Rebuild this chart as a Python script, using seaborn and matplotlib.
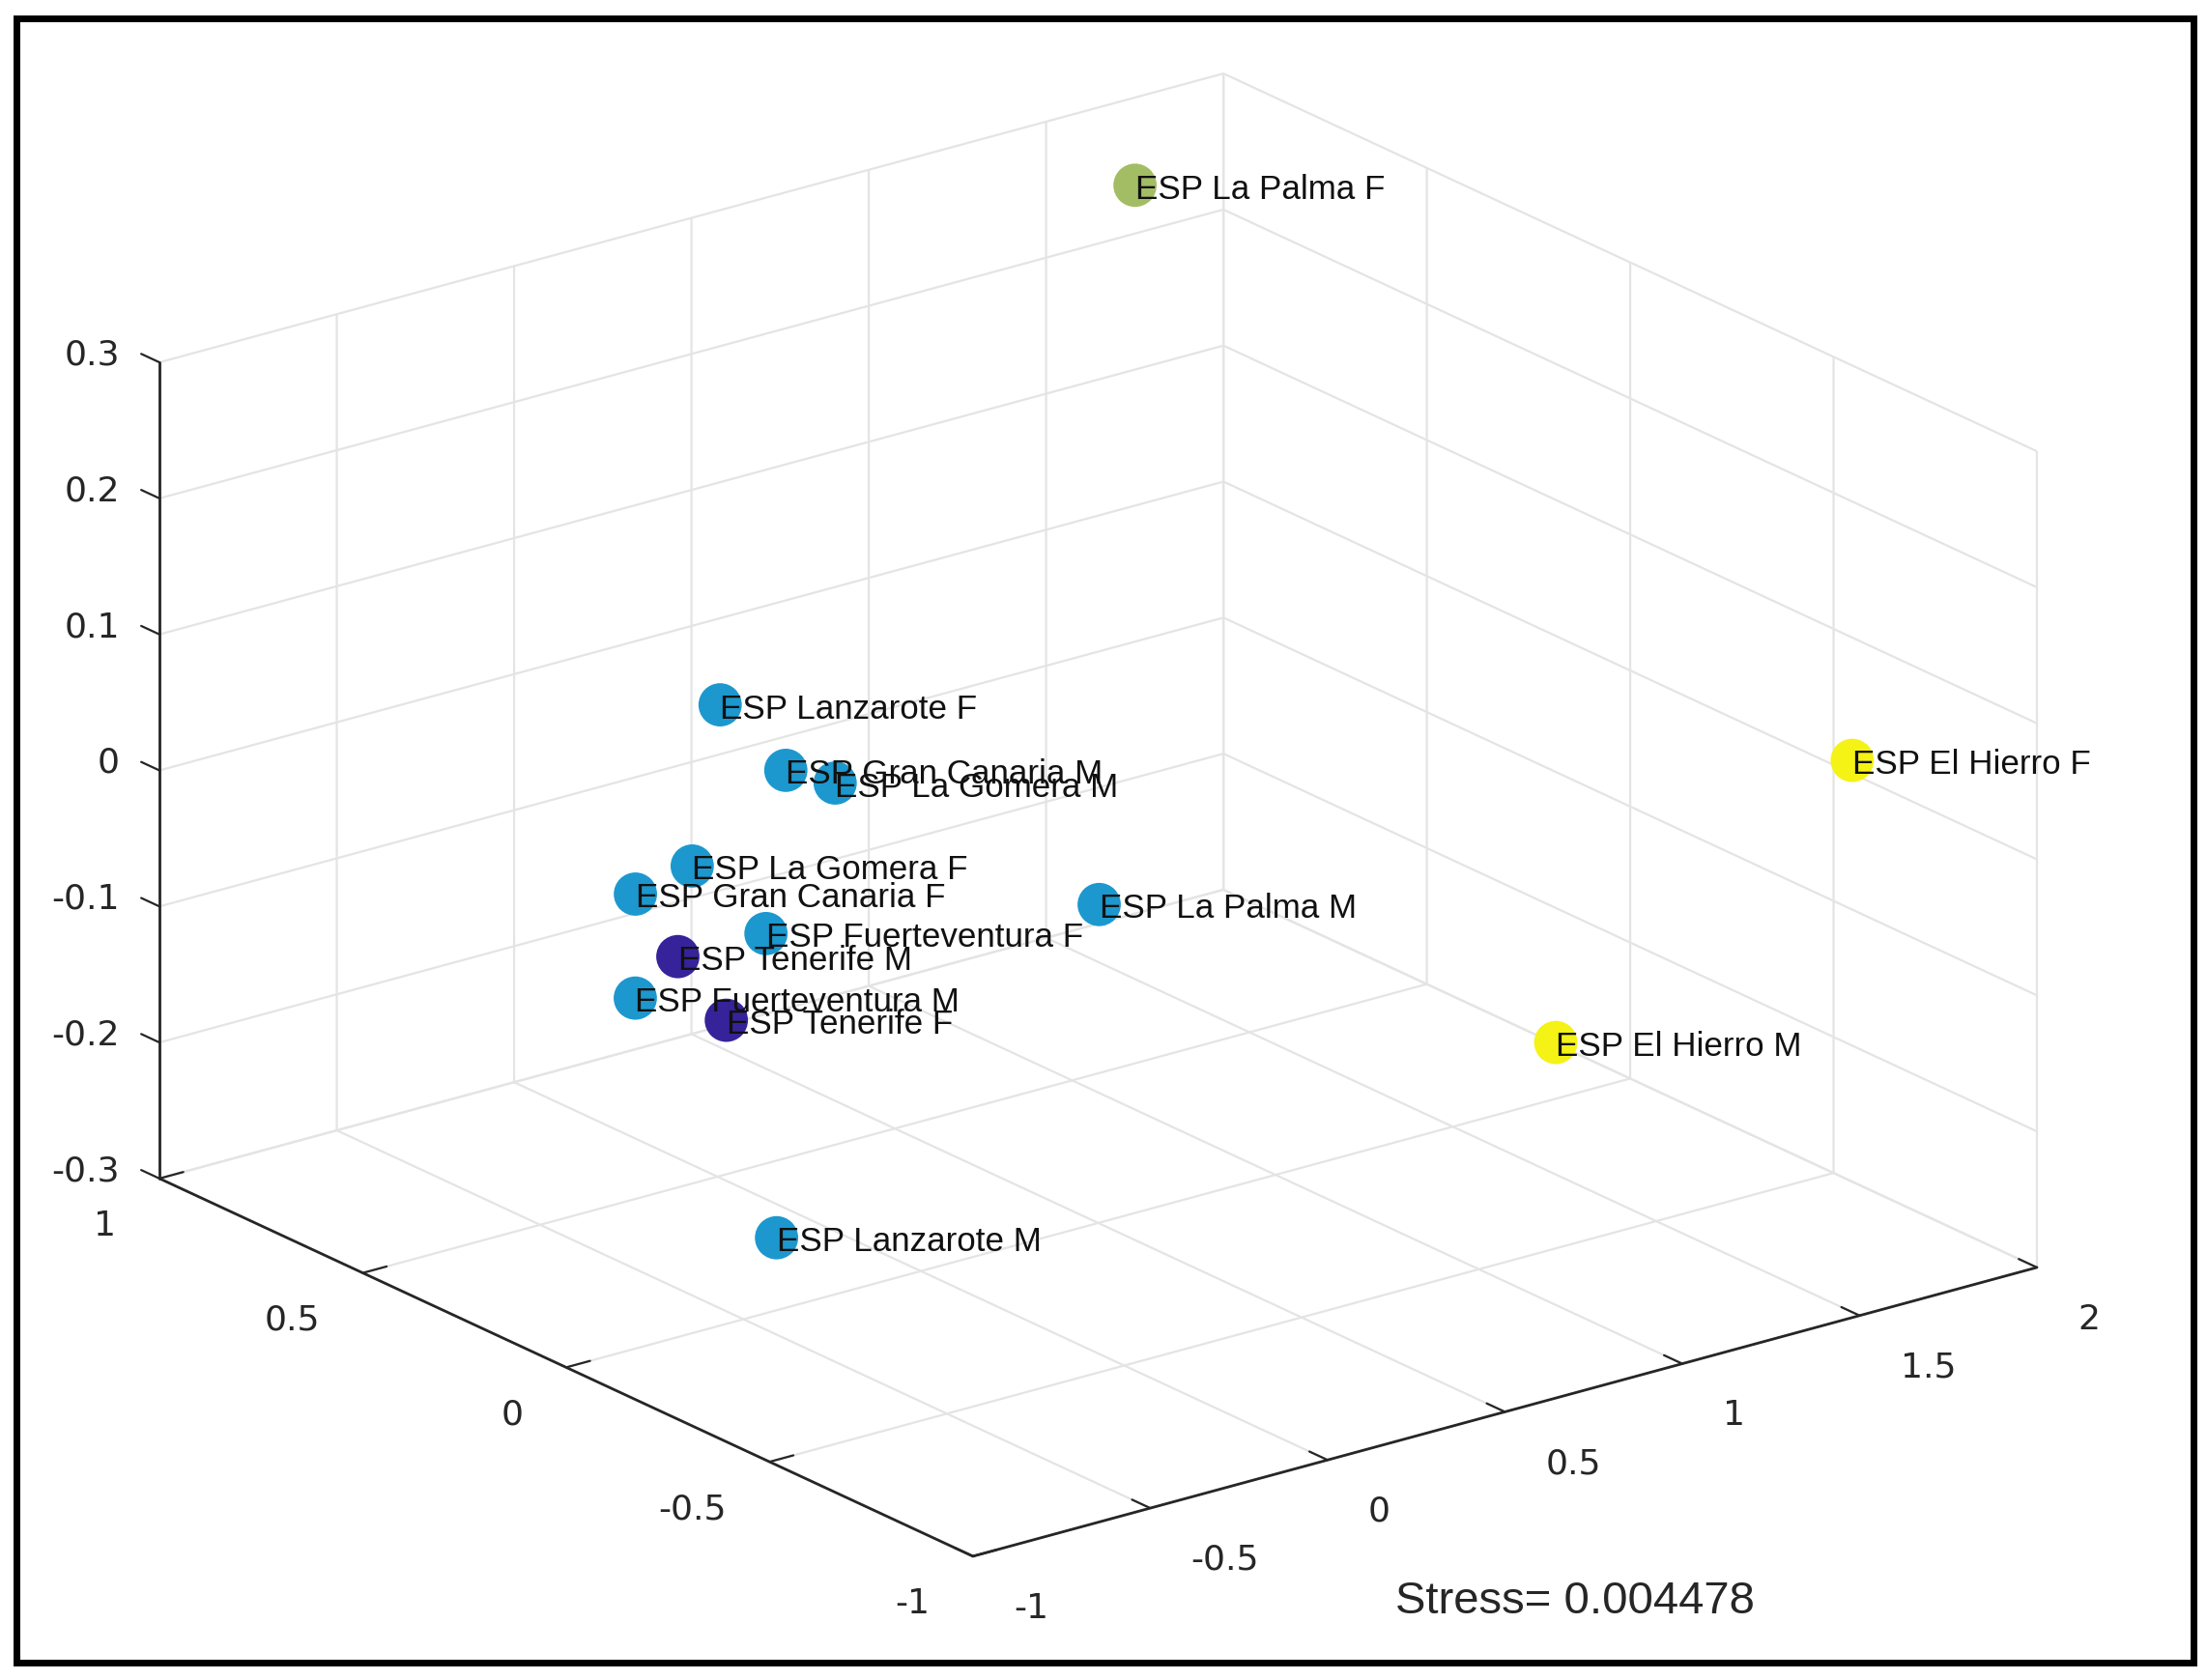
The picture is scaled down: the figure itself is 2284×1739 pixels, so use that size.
import numpy as np
import matplotlib
matplotlib.use("Agg")
import matplotlib.pyplot as plt
import seaborn as sns
from matplotlib.patches import Rectangle
from mpl_toolkits.mplot3d import proj3d

labels = ["ESP La Palma F", "ESP Lanzarote F", "ESP Gran Canaria M", "ESP La Gomera M",
          "ESP La Gomera F", "ESP Gran Canaria F", "ESP Fuerteventura F", "ESP Tenerife M",
          "ESP Fuerteventura M", "ESP Tenerife F", "ESP La Palma M", "ESP El Hierro F",
          "ESP El Hierro M", "ESP Lanzarote M"]
dim1 = [1.55, -0.34, -0.25, -0.19, -0.46, -0.58, -0.40, -0.52, -0.64, -0.49, 0.20, 1.79, 1.25, -0.40]
dim2 = [0.825, 0.197, 0.114, 0.045, 0.161, 0.196, 0.032, 0.144, 0.144, 0.051, -0.264, -0.729, -0.471, 0.006]
dim3 = [0.274, 0.113, 0.070, 0.066, 0.008, -0.009, -0.028, -0.052, -0.074, -0.088, -0.008, 0.050, -0.155, -0.248]
cluster = [3, 2, 2, 2, 2, 2, 2, 1, 2, 1, 2, 4, 4, 2]
cluster_colors = {1: "#36239a", 2: "#1c98cf", 3: "#a2bd64", 4: "#f5f215"}

x_ticks = [-1, -0.5, 0, 0.5, 1, 1.5, 2]
y_ticks = [-1, -0.5, 0, 0.5, 1]
z_ticks = [-0.3, -0.2, -0.1, 0, 0.1, 0.2, 0.3]
stress = 0.004478

sns.set_style("white")
plt.rcParams["font.family"] = ["Liberation Sans", "DejaVu Sans"]
plt.rcParams["axes.unicode_minus"] = False

W, H, DPI = 2284, 1740, 200
fig = plt.figure(figsize=(W / DPI, H / DPI), dpi=DPI)
fig.patch.set_facecolor("white")
ax = fig.add_axes([0.1, 0.1, 0.8, 0.8], projection="3d", proj_type="ortho")
ax.view_init(elev=20.8, azim=-127.4)
ax.set_box_aspect((1, 1, 0.652))

ax.scatter(dim1, dim2, dim3, c=[cluster_colors[k] for k in cluster], s=260,
           depthshade=False, edgecolors="none", alpha=1)
for lab, x, y, z in zip(labels, dim1, dim2, dim3):
    ax.text(x, y, z, lab, ha="left", va="center_baseline", fontsize=12.6,
            color="#111111", zorder=100)

ax.set_xlim(-1, 2)
ax.set_ylim(-1, 1)
ax.set_zlim(-0.3, 0.3)
ax.set_xticks(x_ticks)
ax.set_yticks(y_ticks)
ax.set_zticks(z_ticks)
ax.set_xticklabels([])
ax.set_yticklabels([])
ax.set_zticklabels([])

# tick labels placed MATLAB-style next to the front axes
tick_kw = dict(fontsize=13, color="#262626", family="DejaVu Sans", zorder=100)
for t in x_ticks:
    ax.text(t, -1.10, -0.321, f"{t:g}", ha="left", va="center_baseline", **tick_kw)
for t in y_ticks:
    ax.text(-1.122, t, -0.323, f"{t:g}", ha="right", va="center_baseline", **tick_kw)
for t in z_ticks:
    ax.text(-1.026, 1.075, t, f"{t:g}", ha="right", va="center_baseline", **tick_kw)

# z ticks point along +y like MATLAB
ax.zaxis._AXINFO = {k: dict(v) for k, v in ax.zaxis._AXINFO.items()}
ax.zaxis._AXINFO["z"]["tickdir"] = 1

for axis in (ax.xaxis, ax.yaxis, ax.zaxis):
    axis.set_pane_color((1, 1, 1, 1))
    axis._axinfo["grid"].update(color="#e4e4e4", linewidth=0.8)
    axis._axinfo["axisline"]["color"] = "#262626"
    axis._axinfo["axisline"]["linewidth"] = 1.0
    axis._axinfo["tick"]["inward_factor"] = 0.0
    axis._axinfo["tick"]["outward_factor"] = 0.28
    axis.line.set_color("#262626")
    axis.line.set_linewidth(1.0)
ax.tick_params(colors="#262626")
ax.grid(True)

# fit projected box to the reference frame
fig.canvas.draw()
bx = np.array([-1.0, -1.0, 2.0, 2.0])
by = np.array([-1.0, 1.0, -1.0, 1.0])
bz = np.array([-0.3, 0.3, -0.3, 0.3])
target = np.array([[1005, H - 1613], [165, H - 375], [2108, H - 1314], [1268, H - 76]], float)
px, py, _ = proj3d.proj_transform(bx, by, bz, ax.get_proj())
pts = ax.transData.transform(np.column_stack([px, py]))
pos = ax.get_position()
x0, y0, w = pos.x0 * W, pos.y0 * H, pos.width * W
q = (pts - np.array([x0, y0])) / w
s = np.ptp(target[:, 0]) / np.ptp(pts[:, 0])
w2 = w * s
org = target.mean(axis=0) - w2 * q.mean(axis=0)
ax.set_position([org[0] / W, org[1] / H, w2 / W, w2 / H])

fig.text(1630 / W, 1 - 1658 / H, f"Stress= {stress}", ha="center", va="center",
         fontsize=17, color="#262626")
fig.patches.append(Rectangle((16.5 / W, 1 - 1721.5 / H), 2253 / W, 1702 / H,
                             transform=fig.transFigure, fill=False,
                             edgecolor="black", linewidth=2.5))

fig.savefig("out.png", dpi=DPI)
